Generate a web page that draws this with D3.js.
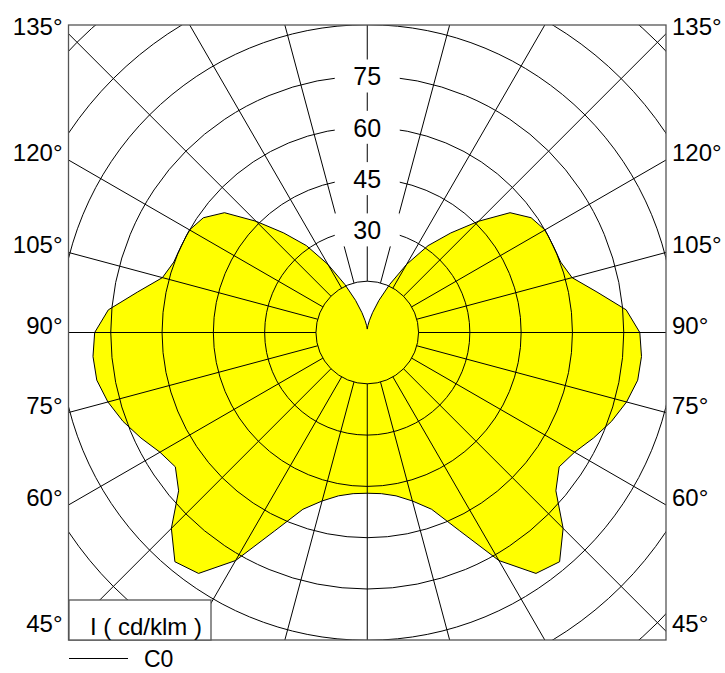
<!DOCTYPE html>
<html>
<head>
<meta charset="utf-8">
<script src="https://cdn.jsdelivr.net/npm/d3@7"></script>
<style>
  body { margin: 0; background: #fff; }
  svg text { font-family: "Liberation Sans", Arial, Helvetica, sans-serif; fill: #000; }
</style>
</head>
<body>
<svg id="chart" width="725" height="673"></svg>
<script>
// gamma angles (deg, 0 = straight down) and intensity in cd/klm
const gammaAngles = [0, 5, 10, 15, 20, 25, 30, 35, 40, 45, 50, 55, 60, 65, 70, 75, 80, 85, 90,
    95, 100, 105, 110, 115, 120, 125, 130, 135, 140, 145, 150, 155, 160, 165, 170, 175, 180];
const intensityC0 = [47, 47.3, 48.5, 51, 55, 64, 77, 86, 87.5, 81, 72, 68.5, 70, 73, 76, 78.5, 80.3, 80.5, 79.7,
    76, 68.2, 62, 60.2, 60, 60, 58.5, 54.5, 46, 38, 31, 23, 15.5, 10, 6, 3.5, 2, 1];
const intensityC180 = intensityC0.slice(); // symmetric plane

const circleTicks = [15, 30, 45, 60, 75, 90, 105, 120];
const radiusLabels = [30, 45, 60, 75];
const sideAngles = [135, 120, 105, 90, 75, 60, 45];
const radialStep = 15;

const svg = d3.select('#chart');
const frame = { left: 68.5, right: 666, top: 25, bottom: 640 };
const cx = (frame.left + frame.right) / 2;
const cy = (frame.top + frame.bottom) / 2;

const r = d3.scaleLinear().domain([0, 120]).range([0, 410.4]);
const rad = deg => deg * Math.PI / 180;

svg.append('clipPath').attr('id', 'plot-clip')
    .append('rect')
    .attr('x', frame.left).attr('y', frame.top)
    .attr('width', frame.right - frame.left).attr('height', frame.bottom - frame.top);

const plot = svg.append('g').attr('clip-path', 'url(#plot-clip)');
const center = plot.append('g').attr('transform', `translate(${cx},${cy})`);

// luminous intensity curve: C0 on the right, C180 mirrored on the left
const curvePts = [];
gammaAngles.forEach((g, i) => curvePts.push({ a: Math.PI - rad(g), v: intensityC0[i] }));
for (let i = gammaAngles.length - 1; i >= 0; i--) {
    curvePts.push({ a: Math.PI + rad(gammaAngles[i]), v: intensityC180[i] });
}
const radial = d3.lineRadial()
    .angle(d => d.a)
    .radius(d => r(d.v))
    .curve(d3.curveLinearClosed);

center.append('path')
    .attr('d', radial(curvePts))
    .attr('fill', '#ffff00')
    .attr('stroke', '#000')
    .attr('stroke-width', 1);

// grid circles
center.selectAll('circle.grid')
    .data(circleTicks)
    .enter()
    .append('circle')
    .attr('class', 'grid')
    .attr('r', d => r(d))
    .attr('fill', 'none')
    .attr('stroke', '#000')
    .attr('stroke-width', 1);

// radial lines every 15 deg, starting at the innermost circle
const spokes = d3.range(0, 360, radialStep);
center.selectAll('line.spoke')
    .data(spokes)
    .enter()
    .append('line')
    .attr('class', 'spoke')
    .attr('x1', d => r(15) * Math.sin(rad(d)))
    .attr('y1', d => r(15) * Math.cos(rad(d)))
    .attr('x2', d => r(140) * Math.sin(rad(d)))
    .attr('y2', d => r(140) * Math.cos(rad(d)))
    .attr('stroke', '#000')
    .attr('stroke-width', 1);

// radius labels with white boxes
const lbl = center.selectAll('g.rlabel')
    .data(radiusLabels)
    .enter()
    .append('g')
    .attr('class', 'rlabel')
    .attr('transform', d => `translate(0,${-r(d)})`);
lbl.append('rect')
    .attr('x', -32.5).attr('y', -16.5)
    .attr('width', 65).attr('height', 33)
    .attr('fill', '#fff');
lbl.append('text')
    .attr('y', 9.4)
    .attr('text-anchor', 'middle')
    .style('font-size', '25px')
    .text(d => d);

// frame
svg.append('rect')
    .attr('x', frame.left).attr('y', frame.top)
    .attr('width', frame.right - frame.left).attr('height', frame.bottom - frame.top)
    .attr('fill', 'none')
    .attr('stroke', '#555')
    .attr('stroke-width', 1.3);

// angle labels on both sides, baseline where the spoke meets the frame
const edgeY = (g, dist) => cy + dist / Math.tan(rad(g));
svg.selectAll('text.left-angle')
    .data(sideAngles)
    .enter()
    .append('text')
    .attr('class', 'left-angle')
    .attr('x', frame.left - 6)
    .attr('y', d => edgeY(d, cx - frame.left) + 1)
    .attr('text-anchor', 'end')
    .style('font-size', '24px')
    .text(d => d + '°');
svg.selectAll('text.right-angle')
    .data(sideAngles)
    .enter()
    .append('text')
    .attr('class', 'right-angle')
    .attr('x', frame.right + 6)
    .attr('y', d => edgeY(d, frame.right - cx) + 1)
    .attr('text-anchor', 'start')
    .style('font-size', '24px')
    .text(d => d + '°');

// unit box
svg.append('rect')
    .attr('x', 69).attr('y', 600)
    .attr('width', 142).attr('height', 40)
    .attr('fill', '#fff')
    .attr('stroke', '#555')
    .attr('stroke-width', 1.3);
svg.append('text')
    .attr('x', 90).attr('y', 634.5)
    .style('font-size', '24px')
    .text('I ( cd/klm )');

// legend
svg.append('line')
    .attr('x1', 69).attr('x2', 128)
    .attr('y1', 658.5).attr('y2', 658.5)
    .attr('stroke', '#000')
    .attr('stroke-width', 1);
svg.append('text')
    .attr('x', 144).attr('y', 667)
    .style('font-size', '23px')
    .text('C0');
</script>
</body>
</html>
